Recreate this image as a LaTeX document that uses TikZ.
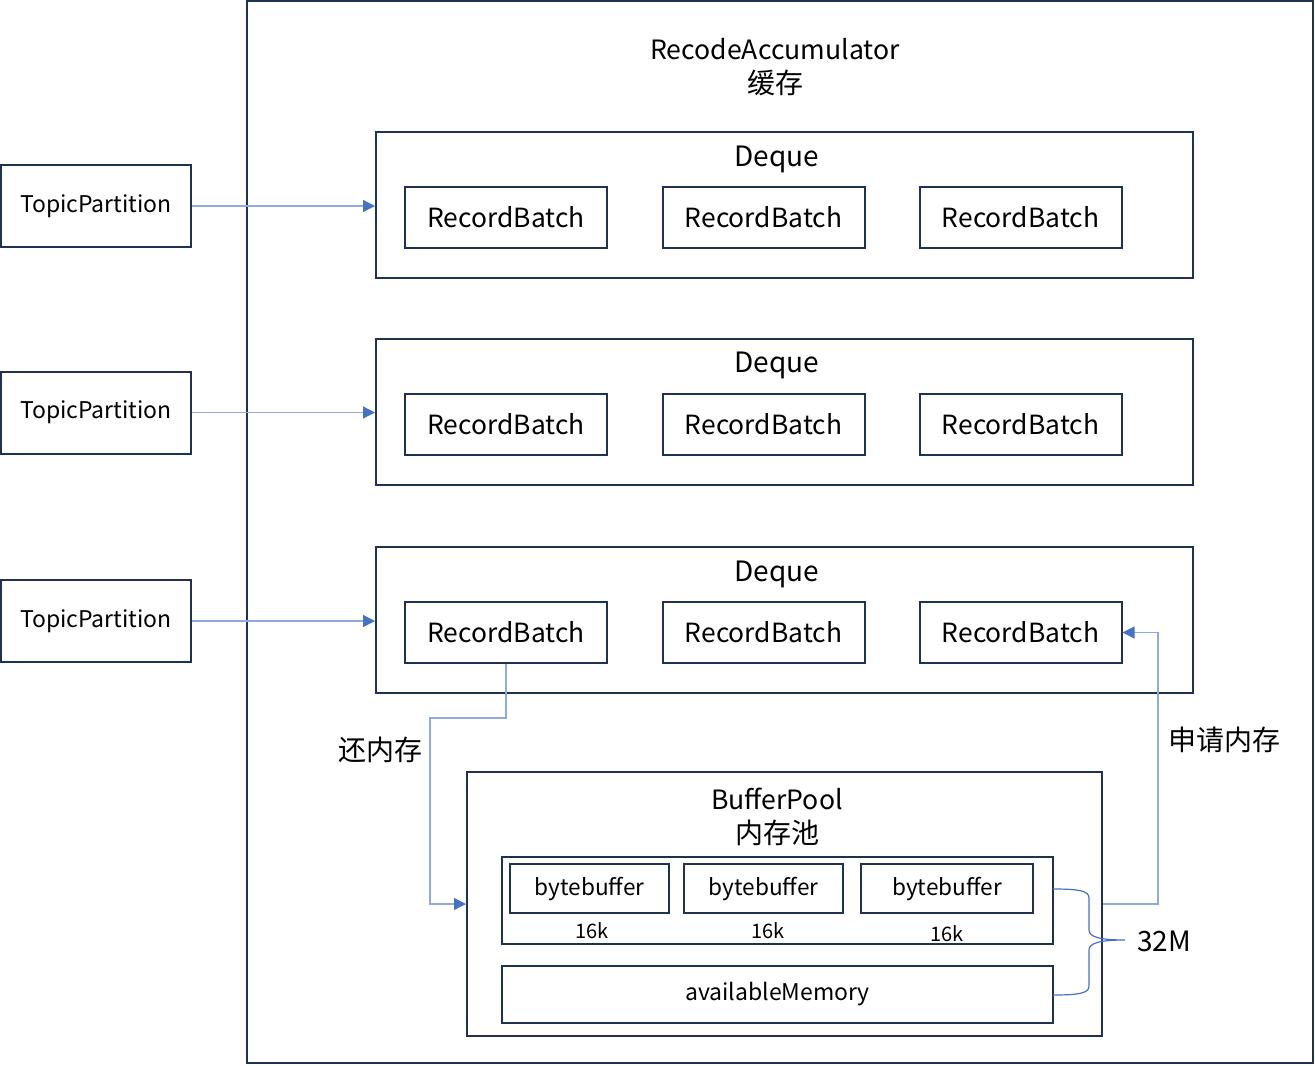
\documentclass[tikz,border=0pt]{standalone}
\usepackage{fontspec}
\setmainfont{Noto Sans CJK SC}
\usepackage{tikz}
\usetikzlibrary{arrows.meta}
\definecolor{boxline}{HTML}{1F3250}
\definecolor{linkline}{HTML}{8FAADC}
\definecolor{linktip}{HTML}{4472C4}
\newcommand{\latinsize}{\fontsize{13.3}{17}\selectfont}
\tikzstyle{block} = [draw=boxline, line width=1pt, rectangle, inner sep=0pt]
\tikzstyle{topic} = [block, minimum width=95pt, minimum height=41pt,
    font=\fontsize{11.5}{14}\selectfont]
\tikzstyle{deque} = [block, minimum width=408.5pt, minimum height=73pt]
\tikzstyle{batch} = [block, minimum width=101pt, minimum height=30.5pt,
    font=\fontsize{13.2}{16}\selectfont]
\tikzstyle{buf} = [block, minimum height=24.5pt, font=\fontsize{11.3}{14}\selectfont]
\tikzstyle{label} = [inner sep=0pt, align=center, font=\fontsize{14}{17}\selectfont]
\tikzstyle{small} = [inner sep=0pt, font=\fontsize{10}{12}\selectfont]
\tikzstyle{link} = [draw=linkline, line width=0.6pt,
    -{Triangle[length=6pt, width=6pt, color=linktip]}]

\begin{document}
\begin{tikzpicture}[x=0.5pt, y=-0.5pt]
    \useasboundingbox (0,0) rectangle (1315,1065);
    % accumulator
    \node [block, minimum width=533pt, minimum height=531pt] at (780,532) (accum) {};
    \node [label] at (775,67) (accumtitle) {{\latinsize RecodeAccumulator}\\缓存};
    % partitions and deques
    \foreach \i/\y/\t in {1/205/159, 2/411.5/365, 3/620/574} {
        \node [topic] at (96,\y+1) (topic\i) {TopicPartition};
        \node [deque] at (784.5,\y) (deque\i) {};
        \node [label] at (777,\t) (dequetitle\i) {Deque};
        \node [batch] at (506,\y+12.5) (batch\i1) {RecordBatch};
        \node [batch] at (763.5,\y+12.5) (batch\i2) {RecordBatch};
        \node [batch] at (1020.5,\y+12.5) (batch\i3) {RecordBatch};
        \draw [link] (topic\i.east) -- (topic\i.east -| deque\i.west);
    }
    % buffer pool
    \node [block, minimum width=317.5pt, minimum height=132pt] at (784.5,904) (pool) {};
    \node [label] at (777,817) (pooltitle) {{\latinsize BufferPool}\\内存池};
    \node [block, minimum width=275.5pt, minimum height=43.5pt] at (777.5,900.5) (bufs) {};
    \node [buf, minimum width=79.5pt] at (589.5,888.5) (buf1) {bytebuffer};
    \node [buf, minimum width=79.5pt] at (763.5,888.5) (buf2) {bytebuffer};
    \node [buf, minimum width=86pt] at (947,888.5) (buf3) {bytebuffer};
    \node [small] at (592,931) (size1) {16k};
    \node [small] at (768,931) (size2) {16k};
    \node [small] at (947,934) (size3) {16k};
    \node [block, minimum width=275.5pt, minimum height=28.5pt,
        font=\fontsize{11.5}{14}\selectfont] at (777.5,994.5) (avail) {availableMemory};
    % memory flow
    \coordinate (retturn) at (430,718);
    \coordinate (reqturn) at (1158,904);
    \draw [link] (batch31.south) |- (retturn) |- (pool.west);
    \draw [link] (pool.east) -- (reqturn) |- (batch33.east);
    \node [label] at (380,750) (retlabel) {还内存};
    \node [label] at (1224,740) (reqlabel) {申请内存};
    % brace
    \coordinate (bracetop) at (1053,889);
    \coordinate (bracebot) at (1053,995);
    \coordinate (bracetip) at (1125,940);
    \draw [linktip, line width=0.6pt] (bracetop) .. controls (1080,889) and (1089,891) .. (1089,898)
        -- (1089,930) .. controls (1089,937) and (1100,940) .. (bracetip)
        .. controls (1100,940) and (1089,943) .. (1089,950)
        -- (1089,986) .. controls (1089,993) and (1080,995) .. (bracebot);
    \node [label] at (1164,941) (total) {32M};
\end{tikzpicture}
\end{document}
